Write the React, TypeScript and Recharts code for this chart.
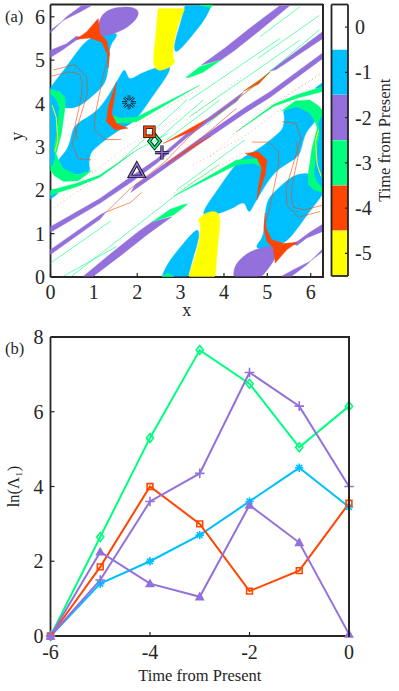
import { BarChart, Bar, Cell, ComposedChart, Line, Scatter, XAxis, YAxis } from "recharts";

const BLUE = "#00BFFF";
const PURPLE = "#9370DB";
const GREEN = "#00FF7F";
const ORANGE = "#FF4500";
const YELLOW = "#FFFF00";
const INK = "#262626";
const SERIF = "'Liberation Serif', serif";

type Pt = [number, number];

// Panel (a): basins in x/y units
const blueUpperLeft: Pt[] = [[0,4.37],[0,4.37],[.37,4.85],[.72,5.35],[.91,5.51],[1.18,5.61],[1.64,5.65],[1.37,5.38],[1.36,5.15],[1.33,4.85],[1.29,4.46],[.99,4.2],[.68,3.92],[.41,3.89],[.34,3.9],[0,4.0],[0,4.0]];
const blueMidLeft: Pt[] = [[.16,2.7],[.41,2.93],[.49,3.31],[.56,3.54],[1.06,3.77],[1.37,4.23],[1.52,4.5],[1.6,4.62],[1.72,4.87],[1.79,4.5],[1.99,4.65],[2.35,4.81],[2.83,4.92],[2.68,4.62],[2.45,4.31],[2.06,3.73],[1.83,3.5],[1.52,3.37],[1.0,2.95],[.91,2.85],[.87,2.54],[.95,2.45],[.68,2.35],[.3,2.35],[.18,2.62]];
const blueTop: Pt[] = [[3.1,6.26],[3.1,6.26],[3.71,6.26],[3.71,6.26],[3.56,5.92],[3.21,5.5],[2.85,5.08],[2.85,5.4],[3.0,5.85]];
const blueLeftCore: Pt[] = [[0,4.22],[.12,4.1],[.2,3.9],[.13,3.3],[.07,2.95],[.1,2.75],[.05,2.6],[0,2.55]];
const blueLeftLow: Pt[] = [[0,1.93],[0,1.79],[.18,1.93]];
const blueLowerRight: Pt[] = [[6.28,1.91],[6.28,1.91],[5.91,1.43],[5.56,.93],[5.37,.77],[5.1,.67],[4.64,.63],[4.91,.9],[4.92,1.13],[4.95,1.43],[4.99,1.82],[5.29,2.08],[5.6,2.36],[5.87,2.39],[5.94,2.38],[6.28,2.28],[6.28,2.28]];
const blueMidRight: Pt[] = [[6.12,3.58],[5.87,3.35],[5.79,2.97],[5.72,2.74],[5.22,2.51],[4.91,2.05],[4.76,1.78],[4.68,1.66],[4.56,1.41],[4.49,1.78],[4.29,1.63],[3.93,1.47],[3.45,1.36],[3.6,1.66],[3.83,1.97],[4.22,2.55],[4.45,2.78],[4.76,2.91],[5.28,3.33],[5.37,3.43],[5.41,3.74],[5.33,3.83],[5.6,3.93],[5.98,3.93],[6.1,3.66]];
const blueBottom: Pt[] = [[3.18,.02],[3.18,.02],[2.57,.02],[2.57,.02],[2.72,.36],[3.07,.78],[3.43,1.2],[3.43,.88],[3.28,.43]];
const blueRightCore: Pt[] = [[6.28,2.06],[6.16,2.18],[6.08,2.38],[6.15,2.98],[6.21,3.33],[6.18,3.53],[6.23,3.68],[6.28,3.73]];
const blueRightHigh: Pt[] = [[6.28,4.35],[6.28,4.49],[6.1,4.35]];

const purpleBlobTop: Pt[] = [[1.3,6.22],[2.05,6.25],[2.04,5.97],[1.68,5.68],[1.27,5.55],[1.06,5.56],[1.1,5.9]];
const purpleBlobBottom: Pt[] = [[4.22,.02],[4.22,.02],[4.24,.3],[4.58,.6],[4.99,.71],[5.24,.71],[5.18,.38],[4.88,.02],[4.88,.02]];
const purpleCornerA: Pt[] = [[0,5.69],[.3,5.92],[.68,6.11],[.95,6.26],[.72,6.26],[.37,6.0],[0,5.63]];
const purpleCornerB: Pt[] = [[0,5.23],[.37,5.38],[.59,5.55],[.75,5.52],[.59,5.46],[.3,5.25],[0,5.06]];
const purpleCornerC: Pt[] = [[6.28,.59],[5.98,.36],[5.6,.17],[5.33,.02],[5.56,.02],[5.91,.28],[6.28,.65]];
const purpleCornerD: Pt[] = [[6.28,1.05],[5.91,.9],[5.69,.73],[5.53,.76],[5.69,.82],[5.98,1.03],[6.28,1.22]];
const purpleStripHigh: Pt[] = [[5.52,6.26],[5.29,6.26],[4.6,5.74],[4.06,5.31],[3.48,4.89],[3.94,5.01],[4.25,5.23],[4.83,5.69]];
const purpleStripLow: Pt[] = [[.76,.02],[.99,.02],[1.68,.54],[2.22,.97],[2.8,1.39],[2.34,1.27],[2.03,1.05],[1.45,.59]];
const purpleDiagUpper: Pt[] = [[0,1.16],[1.14,1.81],[1.91,2.35],[2.45,2.72],[3.14,3.31],[3.91,3.87],[4.44,4.26],[4.3,4.05],[3.91,3.77],[3.14,3.21],[2.45,2.62],[1.91,2.22],[1.14,1.7],[0,1.03]];
const purpleDiagLower: Pt[] = [[1.85,1.95],[3.37,3.02],[4.5,3.79],[5.06,4.14],[6.28,5.04],[6.28,5.17],[5.06,4.27],[4.5,3.92],[3.37,3.14],[1.95,2.12]];
const purpleEdgeLeft: Pt[] = [[0,.63],[1.14,1.43],[1.29,1.51],[1.14,1.33],[0,.52]];
const purpleEdgeRight: Pt[] = [[6.28,5.66],[5.06,4.75],[5.2,4.78],[6.28,5.5]];

const greenLeftBlob: Pt[] = [[0,4.33],[.21,4.27],[.33,4.15],[.34,3.93],[.25,3.3],[.13,2.85],[.18,2.7],[.3,2.5],[.6,2.35],[.95,2.45],[.64,2.22],[.3,2.2],[.1,2.33],[0,2.45]];
const greenRightBlob: Pt[] = [[6.28,1.95],[6.07,2.01],[5.95,2.13],[5.94,2.35],[6.03,2.98],[6.15,3.43],[6.1,3.58],[5.98,3.78],[5.68,3.93],[5.33,3.83],[5.64,4.06],[5.98,4.08],[6.18,3.95],[6.28,3.83]];
const greenTailLeft: Pt[] = [[0,2.0],[.6,2.16],[1.14,2.35],[1.99,2.93],[1.14,2.3],[.6,2.08],[0,1.89]];
const greenTailRight: Pt[] = [[6.28,4.28],[5.68,4.12],[5.14,3.93],[4.29,3.35],[5.14,3.98],[5.68,4.2],[6.28,4.39]];
const greenCrescentUpper: Pt[] = [[1.33,3.77],[1.6,3.66],[1.99,3.69],[2.45,3.92],[3.44,4.42],[2.45,3.85],[1.99,3.58],[1.41,3.54]];
const greenCrescentLower: Pt[] = [[4.95,2.51],[4.68,2.62],[4.29,2.59],[3.83,2.36],[2.84,1.86],[3.83,2.43],[4.29,2.7],[4.87,2.74]];
const greenSliverUpper: Pt[] = [[3.12,4.6],[3.44,4.85],[3.94,5.01],[3.52,4.72],[3.2,4.6]];
const greenSliverLower: Pt[] = [[3.16,1.68],[2.84,1.43],[2.34,1.27],[2.76,1.56],[3.08,1.68]];
const greenTopEdge: Pt[] = [[3.44,6.27],[3.75,6.27],[3.68,6.2]];
const greenBottomEdge: Pt[] = [[2.57,.01],[2.84,.01],[2.7,.09]];

const yellowTop: Pt[] = [[2.48,6.19],[2.48,6.19],[3.1,6.19],[3.1,6.19],[2.95,5.85],[2.83,5.38],[2.81,5.0],[2.91,5.0],[2.75,4.81],[2.45,4.73],[2.35,4.92],[2.41,5.38],[2.45,5.85]];
const yellowBottom: Pt[] = [[3.8,.01],[3.8,.01],[3.18,.01],[3.18,.01],[3.33,.43],[3.45,.9],[3.47,1.28],[3.37,1.28],[3.53,1.47],[3.83,1.55],[3.93,1.36],[3.87,.9],[3.83,.43]];

const orangeTop: Pt[] = [[.59,5.48],[.83,5.65],[1.1,5.96],[1.14,5.61],[1.29,5.46],[1.36,5.15],[1.33,4.81],[1.31,5.15],[1.18,5.42],[.91,5.51]];
const orangeBottom: Pt[] = [[5.69,.8],[5.45,.63],[5.18,.32],[5.14,.67],[4.99,.82],[4.92,1.13],[4.95,1.47],[4.97,1.13],[5.1,.86],[5.37,.77]];
const orangeMidLeft: Pt[] = [[1.52,4.5],[1.33,3.92],[1.29,3.58],[1.49,3.39],[1.79,3.43],[1.52,3.54],[1.41,3.77],[1.49,4.23]];
const orangeMidRight: Pt[] = [[4.76,1.78],[4.95,2.36],[4.99,2.7],[4.79,2.89],[4.49,2.85],[4.76,2.74],[4.87,2.51],[4.79,2.05]];
const orangeLozengeA: Pt[] = [[2.6,3.08],[3.44,3.55],[3.6,3.63],[3.3,3.38]];
const orangeLozengeB: Pt[] = [[2.68,2.6],[3.3,3.0],[3.7,3.25],[3.2,2.98]];
const orangeLozengeC: Pt[] = [[4.44,4.28],[4.87,4.58],[5.06,4.73],[4.8,4.45]];

const SMOOTH = "basisClosed";
const SHARP = "linearClosed";
const regions: [Pt[], string, string][] = [
  [blueUpperLeft, BLUE, SMOOTH], [blueMidLeft, BLUE, SMOOTH], [blueTop, BLUE, SMOOTH], [blueLeftCore, BLUE, SHARP], [blueLeftLow, BLUE, SHARP],
  [blueLowerRight, BLUE, SMOOTH], [blueMidRight, BLUE, SMOOTH], [blueBottom, BLUE, SMOOTH], [blueRightHigh, BLUE, SHARP],
  [purpleCornerA, PURPLE, SHARP], [purpleCornerB, PURPLE, SHARP], [purpleCornerC, PURPLE, SHARP], [purpleCornerD, PURPLE, SHARP],
  [purpleStripHigh, PURPLE, SHARP], [purpleStripLow, PURPLE, SHARP], [purpleDiagUpper, PURPLE, SHARP], [purpleDiagLower, PURPLE, SHARP],
  [purpleEdgeLeft, PURPLE, SHARP], [purpleEdgeRight, PURPLE, SHARP], [purpleBlobTop, PURPLE, SMOOTH], [purpleBlobBottom, PURPLE, SMOOTH],
  [greenLeftBlob, GREEN, SHARP], [greenRightBlob, GREEN, SHARP], [greenTailLeft, GREEN, SHARP], [greenTailRight, GREEN, SHARP],
  [greenCrescentUpper, GREEN, SHARP], [greenCrescentLower, GREEN, SHARP], [greenSliverUpper, GREEN, SHARP], [greenSliverLower, GREEN, SHARP],
  [greenTopEdge, GREEN, SHARP], [greenBottomEdge, GREEN, SHARP],
  [blueLeftCore, BLUE, SHARP], [blueRightCore, BLUE, SHARP],
  [yellowTop, YELLOW, SMOOTH], [yellowBottom, YELLOW, SMOOTH],
  [orangeTop, ORANGE, SHARP], [orangeBottom, ORANGE, SHARP], [orangeMidLeft, ORANGE, SHARP], [orangeMidRight, ORANGE, SHARP],
  [orangeLozengeA, ORANGE, SHARP], [orangeLozengeB, ORANGE, SHARP], [orangeLozengeC, ORANGE, SHARP],
];

// thin orange traces
const orangeThin: Pt[][] = [
  [[.06,4.77],[.56,4.9],[.83,4.62],[.85,4.23],[.71,3.77],[.6,3.39],[.5,3.08],[.63,2.73],[.94,2.7]],
  [[.02,4.63],[.42,4.73],[.67,4.68],[.73,4.47],[.71,4.15],[.56,3.46],[.62,3.16]],
  [[1.31,5.0],[1.21,4.62],[1.02,3.69],[1.02,3.39],[1.25,3.17],[1.63,3.17]],
  [[6.22,1.51],[5.72,1.38],[5.45,1.66],[5.43,2.05],[5.57,2.51],[5.68,2.89],[5.78,3.2],[5.65,3.55],[5.34,3.58]],
  [[6.26,1.65],[5.86,1.55],[5.61,1.6],[5.55,1.81],[5.57,2.13],[5.72,2.82],[5.66,3.12]],
  [[4.97,1.28],[5.07,1.66],[5.26,2.59],[5.26,2.89],[5.03,3.11],[4.65,3.11]],
  [[1.29,1.5],[1.82,2.02],[2.6,2.62],[3.56,3.6]],
  [[1.29,1.5],[1.85,1.72],[2.1,1.95]],
  [[3.68,3.62],[4.67,4.38],[5.06,4.72]],
  [[2.68,2.62],[3.14,2.92],[4.29,3.89]],
];

// yellow hairlines inside the side blobs
const yellowThin: Pt[][] = [
  [[.04,3.96],[.13,3.69],[.17,3.16],[.1,2.89]],
  [[6.24,2.32],[6.15,2.59],[6.11,3.12],[6.18,3.39]],
];

// dotted orange and thin green traces
const orangeDotted: Pt[][] = [
  [[0,1.54],[1.45,2.54],[2.1,3.0]],
  [[.3,1.9],[1.75,3.0],[3.0,3.7]],
  [[1.9,3.45],[3.44,4.35]],
  [[3.14,3.62],[3.75,4.08],[4.4,4.6]],
  [[3.68,2.77],[4.75,3.77],[6.2,4.65]],
  [[6.28,4.74],[4.83,3.74],[4.18,3.28]],
  [[5.98,4.38],[4.53,3.28],[3.28,2.58]],
  [[4.38,2.83],[2.84,1.93]],
];
const greenThin: Pt[][] = [
  [[0,.32],[1.4,1.3]],
  [[.3,.02],[1.52,.7]],
  [[.49,.02],[3.14,2.08],[3.9,2.6]],
  [[1.6,2.66],[3.14,4.08]],
  [[2.37,3.08],[3.52,4.08]],
  [[2.68,3.16],[3.9,4.08]],
  [[2.9,2.0],[4.48,3.16]],
  [[4.83,5.54],[5.75,6.23]],
  [[4.78,5.04],[6.2,6.03]],
  [[3.21,4.08],[5.29,5.5]],
  [[3.21,3.7],[5.75,5.46]],
  [[3.6,3.5],[6.2,5.7]],
  [[1.99,2.93],[2.7,3.3]],
];

// Panel (a): marked points
const asteriskPoint = [{ x: 1.81, y: 4.03 }];
const squarePoint = [{ x: 2.28, y: 3.35 }];
const diamondPoint = [{ x: 2.4, y: 3.13 }];
const plusPoint = [{ x: 2.57, y: 2.87 }];
const trianglePoint = [{ x: 1.99, y: 2.45 }];

const axisTicks = [0, 1, 2, 3, 4, 5, 6];
const TWO_PI = 6.2832;

// Colorbar
const barLevels = [0, -1, -2, -3, -4, -5];
const barColors = ["#FFFFFF", BLUE, PURPLE, GREEN, ORANGE, YELLOW];
const barTable = barLevels.map((level) => ({ level, span: 1 }));

// Panel (b)
const times = [-6, -5, -4, -3, -2, -1, 0];
const asteriskSeries = [0, 1.4, 2.0, 2.7, 3.6, 4.5, 3.45];
const triangleSeries = [0, 2.25, 1.4, 1.05, 3.5, 2.5, 0.05];
const plusSeries = [0, 1.5, 3.6, 4.35, 7.05, 6.15, 4.0];
const diamondSeries = [0, 2.65, 5.3, 7.65, 6.75, 5.05, 6.15];
const squareSeries = [0, 1.85, 4.0, 3.0, 1.2, 1.75, 3.55];
const timeTicks = [-6, -4, -2, 0];
const lnTicks = [0, 2, 4, 6, 8];

const tableB = times.map((t, i) => ({
  t,
  asterisk: asteriskSeries[i],
  triangle: triangleSeries[i],
  plus: plusSeries[i],
  diamond: diamondSeries[i],
  square: squareSeries[i],
}));

const toPoints = (pts: Pt[]) => pts.map(([x, y]) => ({ x, y }));
const noDot = () => <g />;

const markerPath = (kind: string, cx: number, cy: number, r: number) => {
  if (kind === "square") return `M${cx - r},${cy - r}H${cx + r}V${cy + r}H${cx - r}Z`;
  if (kind === "diamond") return `M${cx},${cy - r * 1.25}L${cx + r},${cy}L${cx},${cy + r * 1.25}L${cx - r},${cy}Z`;
  if (kind === "plus") return `M${cx - r},${cy}H${cx + r}M${cx},${cy - r}V${cy + r}`;
  if (kind === "triangle") return `M${cx},${cy - r}L${cx + r},${cy + r * 0.8}H${cx - r}Z`;
  const d = r * 0.7;
  return `M${cx - r},${cy}H${cx + r}M${cx},${cy - r}V${cy + r}M${cx - d},${cy - d}L${cx + d},${cy + d}M${cx - d},${cy + d}L${cx + d},${cy - d}`;
};

// outlined marker of panel (a)
const outlined = (kind: string, color: string, r: number, wide = 3.4, thin = 1.6) => (props: any) => {
  const d = markerPath(kind, props.cx, props.cy, r);
  return (
    <g>
      <path d={d} fill="none" stroke="#111" strokeWidth={wide} />
      <path d={d} fill="none" stroke={color} strokeWidth={thin} />
    </g>
  );
};

// small open marker of panel (b)
const small = (kind: string, color: string, r: number, filled = false) => (props: any) => (
  <path
    key={props.index}
    d={markerPath(kind, props.cx, props.cy, r)}
    fill={filled ? color : "none"}
    stroke={color}
    strokeWidth={1.6}
  />
);

const tickStyle = (size: number) => ({ fontSize: size, fontFamily: SERIF, fill: INK });
const axisLineStyle = { stroke: INK, strokeWidth: 1.8 };
const tickLineStyle = { stroke: INK, strokeWidth: 1.2 };

const PanelA = () => (
  <ComposedChart width={399} height={335} margin={{ top: 3.5, right: 74, bottom: 10, left: 0.5 }}>
    <XAxis
      dataKey="x" type="number" domain={[0, TWO_PI]} ticks={axisTicks} interval={0}
      height={48} tickSize={-4} tickMargin={12} tick={tickStyle(20)} axisLine={axisLineStyle} tickLine={tickLineStyle}
      label={{ value: "x", position: "insideBottom", offset: 9, style: tickStyle(18) }}
    />
    <YAxis
      dataKey="y" type="number" domain={[0, TWO_PI]} ticks={axisTicks} interval={0}
      width={50} tickSize={-4} tickMargin={9.5} tick={tickStyle(20)} axisLine={axisLineStyle} tickLine={tickLineStyle}
      label={{ value: "y", angle: -90, position: "insideLeft", offset: 16, style: tickStyle(18) }}
    />
    <XAxis xAxisId="top" orientation="top" type="number" domain={[0, TWO_PI]} ticks={axisTicks} interval={0} height={1} tick={false} tickSize={-4} axisLine={axisLineStyle} tickLine={tickLineStyle} />
    <YAxis yAxisId="side" orientation="right" type="number" domain={[0, TWO_PI]} ticks={axisTicks} interval={0} width={2} tick={{ fontSize: 0 }} tickSize={-4} tickMargin={0} axisLine={axisLineStyle} tickLine={tickLineStyle} />
    {regions.map(([pts, color, joint], i) => (
      <Scatter
        key={`r${i}`} data={toPoints(pts)} shape={noDot} isAnimationActive={false}
        line={{ fill: color, stroke: color, strokeWidth: 0.4 }} lineJointType={joint as any}
      />
    ))}
    {greenThin.map((pts, i) => (
      <Scatter
        key={`g${i}`} data={toPoints(pts)} shape={noDot} isAnimationActive={false}
        line={{ fill: "none", stroke: GREEN, strokeWidth: 0.6 }} lineJointType="linear"
      />
    ))}
    {orangeDotted.map((pts, i) => (
      <Scatter
        key={`d${i}`} data={toPoints(pts)} shape={noDot} isAnimationActive={false}
        line={{ fill: "none", stroke: ORANGE, strokeWidth: 0.9, strokeOpacity: 0.45, strokeDasharray: "1 3" }} lineJointType="linear"
      />
    ))}
    {yellowThin.map((pts, i) => (
      <Scatter
        key={`y${i}`} data={toPoints(pts)} shape={noDot} isAnimationActive={false}
        line={{ fill: "none", stroke: YELLOW, strokeWidth: 1 }} lineJointType="linear"
      />
    ))}
    {orangeThin.map((pts, i) => (
      <Scatter
        key={`o${i}`} data={toPoints(pts)} shape={noDot} isAnimationActive={false}
        line={{ fill: "none", stroke: ORANGE, strokeWidth: 0.6 }} lineJointType="linear"
      />
    ))}
    <Scatter data={asteriskPoint} shape={outlined("asterisk", BLUE, 7, 2.6, 1.1)} isAnimationActive={false} />
    <Scatter data={trianglePoint} shape={outlined("triangle", PURPLE, 7)} isAnimationActive={false} />
    <Scatter data={diamondPoint} shape={outlined("diamond", GREEN, 5.5)} isAnimationActive={false} />
    <Scatter data={plusPoint} shape={outlined("plus", PURPLE, 7, 3.2, 1.5)} isAnimationActive={false} />
    <Scatter data={squarePoint} shape={outlined("square", ORANGE, 4.5, 3.4, 2)} isAnimationActive={false} />
  </ComposedChart>
);

const ColorBar = () => (
  <BarChart
    layout="vertical" width={399} height={335} data={barTable} barCategoryGap={0}
    margin={{ top: 3.5, right: 0, bottom: 58, left: 330.5 }}
  >
    <XAxis type="number" domain={[0, 1]} height={0} hide />
    <XAxis xAxisId="top" orientation="top" type="number" domain={[0, 1]} height={1} tick={false} tickLine={false} axisLine={axisLineStyle} />
    <XAxis xAxisId="low" orientation="bottom" type="number" domain={[0, 1]} height={1} tick={false} tickLine={false} axisLine={axisLineStyle} />
    <YAxis yAxisId="left" type="category" dataKey="level" width={1} tick={false} tickLine={false} axisLine={axisLineStyle} />
    <YAxis
      dataKey="level" orientation="right" type="category" interval={0}
      width={51} tickSize={-3} tickMargin={10} tick={{ ...tickStyle(20), textAnchor: "start" }}
      axisLine={axisLineStyle} tickLine={tickLineStyle}
      label={{ value: "Time from Present", angle: -90, position: "insideRight", offset: 15, style: { ...tickStyle(16.5), textAnchor: "middle" } }}
    />
    <Bar dataKey="span" isAnimationActive={false}>
      {barColors.map((color) => <Cell key={color} fill={color} />)}
    </Bar>
  </BarChart>
);

const PanelB = () => (
  <ComposedChart width={399} height={371} data={tableB} margin={{ top: 16, right: 48, bottom: 8, left: 0.5 }}>
    <XAxis
      dataKey="t" type="number" domain={[-6, 0]} ticks={timeTicks} interval={0}
      height={47} tickSize={-4} tickMargin={13} tick={tickStyle(20)} axisLine={axisLineStyle} tickLine={tickLineStyle}
      label={{ value: "Time from Present", position: "insideBottom", offset: 2, style: tickStyle(16.5) }}
    />
    <YAxis
      type="number" domain={[0, 8]} ticks={lnTicks} interval={0}
      width={50} tickSize={-4} tickMargin={11} tick={tickStyle(20)} axisLine={axisLineStyle} tickLine={tickLineStyle}
      label={{ value: "ln(Λ₁)", angle: -90, position: "insideLeft", offset: 13, style: { ...tickStyle(16.5), textAnchor: "middle" } }}
    />
    <XAxis xAxisId="top" orientation="top" type="number" domain={[-6, 0]} ticks={timeTicks} interval={0} height={1} tick={false} tickSize={-4} axisLine={axisLineStyle} tickLine={tickLineStyle} />
    <YAxis yAxisId="side" orientation="right" type="number" domain={[0, 8]} ticks={lnTicks} interval={0} width={2} tick={{ fontSize: 0 }} tickSize={-4} tickMargin={0} axisLine={axisLineStyle} tickLine={tickLineStyle} />
    <Line dataKey="diamond" stroke={GREEN} strokeWidth={2} dot={small("diamond", GREEN, 3.6)} isAnimationActive={false} />
    <Line dataKey="asterisk" stroke={BLUE} strokeWidth={2} dot={small("asterisk", BLUE, 4.2)} isAnimationActive={false} />
    <Line dataKey="square" stroke={ORANGE} strokeWidth={2} dot={small("square", ORANGE, 2.9)} isAnimationActive={false} />
    <Line dataKey="plus" stroke={PURPLE} strokeWidth={2} dot={small("plus", PURPLE, 4.8)} isAnimationActive={false} />
    <Line dataKey="triangle" stroke={PURPLE} strokeWidth={2} dot={small("triangle", PURPLE, 3.6, true)} isAnimationActive={false} />
  </ComposedChart>
);

const panelLabel = (text: string, top: number) => (
  <div style={{ position: "absolute", left: 5, top, fontFamily: SERIF, fontSize: 16.5, color: INK }}>{text}</div>
);

// right edge of a plot frame
const frameEdge = (left: number, top: number, height: number) => (
  <div style={{ position: "absolute", left, top, width: 2, height, background: INK }} />
);

export default function App() {
  return (
    <div style={{ position: "absolute", left: 0, top: 0, width: 399, height: 691, background: "#fff", overflow: "hidden" }}>
      <div style={{ position: "absolute", left: 0, top: 0 }}><PanelA /></div>
      <div style={{ position: "absolute", left: 0, top: 0 }}><ColorBar /></div>
      <div style={{ position: "absolute", left: 0, top: 320 }}><PanelB /></div>
      {frameEdge(322, 4, 274)}
      {frameEdge(348, 336, 301)}
      {panelLabel("(a)", 7)}
      {panelLabel("(b)", 339)}
    </div>
  );
}
